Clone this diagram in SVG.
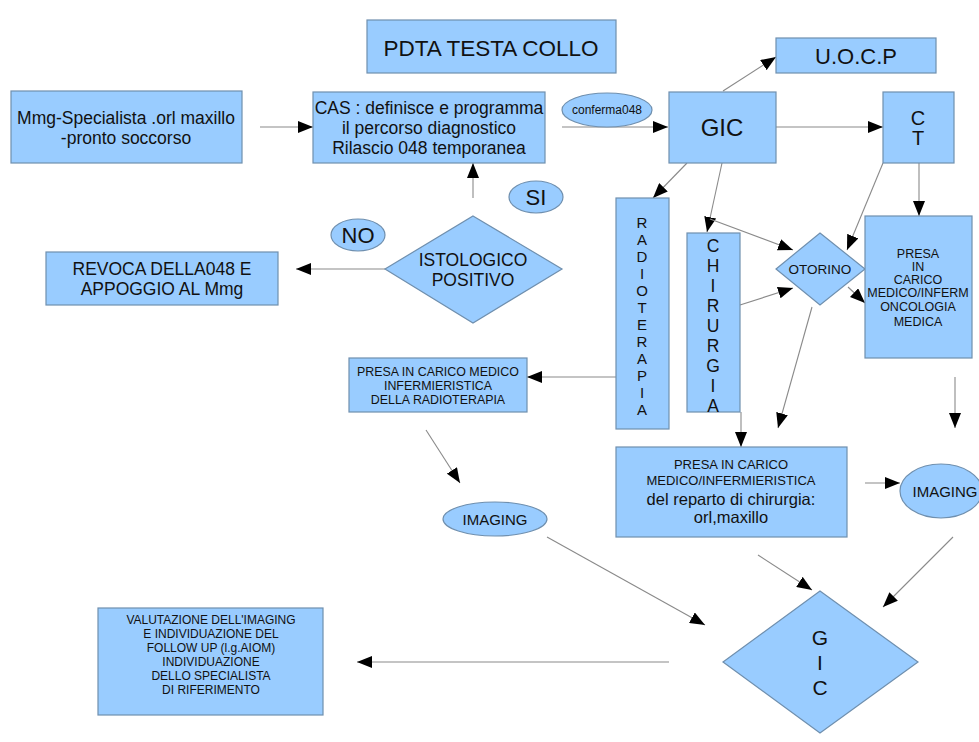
<svg xmlns="http://www.w3.org/2000/svg" width="979" height="742" viewBox="0 0 979 742">
<style>
.n{fill:#99ccff;stroke:#6f8fae;stroke-width:1.2}
.t{font-family:"Liberation Sans",Arial,sans-serif;fill:#111;text-anchor:middle}
.c line{stroke:#8a8a8a;stroke-width:1.1;marker-end:url(#ah)}
</style>
<defs>
<marker id="ah" markerUnits="userSpaceOnUse" markerWidth="16" markerHeight="12" refX="15" refY="6" orient="auto"><path d="M0,0 L15,6 L0,12 z" fill="#000"/></marker>
</defs>
<rect width="979" height="742" fill="#fff"/>
<g class="c">
<line x1="260" y1="127" x2="313" y2="127"/>
<line x1="562" y1="127" x2="668" y2="127"/>
<line x1="723" y1="91" x2="776" y2="57"/>
<line x1="776" y1="127" x2="883" y2="127"/>
<line x1="919" y1="163" x2="919" y2="216"/>
<line x1="883" y1="163" x2="847" y2="250"/>
<line x1="687" y1="163" x2="653" y2="198"/>
<line x1="722" y1="163" x2="707" y2="232"/>
<line x1="710" y1="219" x2="793" y2="250"/>
<line x1="740" y1="305" x2="793" y2="288"/>
<line x1="848" y1="287" x2="865" y2="303"/>
<line x1="812" y1="307" x2="778" y2="428"/>
<line x1="955" y1="377" x2="955" y2="428"/>
<line x1="741" y1="412" x2="741" y2="447"/>
<line x1="616" y1="377" x2="527" y2="377"/>
<line x1="473" y1="198" x2="473" y2="163"/>
<line x1="385" y1="269" x2="296" y2="269"/>
<line x1="426" y1="430" x2="460" y2="483"/>
<line x1="547" y1="537" x2="705" y2="625"/>
<line x1="758" y1="555" x2="812" y2="590"/>
<line x1="865" y1="483" x2="900" y2="483"/>
<line x1="953" y1="537" x2="883" y2="607"/>
<line x1="669" y1="662" x2="357" y2="662"/>
</g>
<g id="pdta"><rect class="n" x="367" y="20" width="249" height="53"/><text class="t" x="491" y="56" font-size="22.5">PDTA TESTA COLLO</text></g>
<g id="mmg"><rect class="n" x="11" y="91" width="231" height="72"/><text class="t" x="126" y="124" font-size="17.5">Mmg-Specialista .orl maxillo</text><text class="t" x="126" y="144" font-size="17.5">-pronto soccorso</text></g>
<g id="cas"><rect class="n" x="313" y="92" width="232" height="71"/><text class="t" x="429" y="114" font-size="17.5">CAS : definisce e programma</text><text class="t" x="429" y="134" font-size="17.5">il percorso diagnostico</text><text class="t" x="429" y="154" font-size="17.5">Rilascio 048 temporanea</text></g>
<g id="conferma"><ellipse class="n" cx="607" cy="110" rx="45" ry="17"/><text class="t" x="607" y="114" font-size="12">conferma048</text></g>
<g id="gic1"><rect class="n" x="669" y="92" width="107" height="71"/><text class="t" x="722" y="136" font-size="24">GIC</text></g>
<g id="uocp"><rect class="n" x="776" y="38" width="160" height="35"/><text class="t" x="856" y="64" font-size="22">U.O.C.P</text></g>
<g id="ct"><rect class="n" x="883" y="92" width="71" height="71"/><text class="t" x="918" y="125" font-size="20">C</text><text class="t" x="918" y="145" font-size="20">T</text></g>
<g id="si"><ellipse class="n" cx="536" cy="197" rx="27" ry="16"/><text class="t" x="536" y="205" font-size="22">SI</text></g>
<g id="no"><ellipse class="n" cx="358" cy="235" rx="27" ry="16"/><text class="t" x="358" y="243" font-size="22">NO</text></g>
<g id="istologico"><polygon class="n" points="473,216 562,269 473,323 385,269"/><text class="t" x="473" y="266" font-size="17.5">ISTOLOGICO</text><text class="t" x="473" y="286" font-size="17.5">POSITIVO</text></g>
<g id="revoca"><rect class="n" x="46" y="252" width="232" height="53"/><text class="t" x="162" y="275" font-size="17.5">REVOCA DELLA048 E</text><text class="t" x="162" y="295" font-size="17.5">APPOGGIO AL Mmg</text></g>
<g id="radioterapia"><rect class="n" x="616" y="198" width="53" height="231"/>
<text class="t" x="642" font-size="15"><tspan x="642" y="228">R</tspan><tspan x="642" y="245">A</tspan><tspan x="642" y="262">D</tspan><tspan x="642" y="279">I</tspan><tspan x="642" y="296">O</tspan><tspan x="642" y="313">T</tspan><tspan x="642" y="330">E</tspan><tspan x="642" y="347">R</tspan><tspan x="642" y="364">A</tspan><tspan x="642" y="381">P</tspan><tspan x="642" y="398">I</tspan><tspan x="642" y="415">A</tspan></text></g>
<g id="chirurgia"><rect class="n" x="687" y="233" width="53" height="179"/>
<text class="t" x="713" font-size="17.5"><tspan x="713" y="252">C</tspan><tspan x="713" y="272">H</tspan><tspan x="713" y="292">I</tspan><tspan x="713" y="312">R</tspan><tspan x="713" y="332">U</tspan><tspan x="713" y="352">R</tspan><tspan x="713" y="372">G</tspan><tspan x="713" y="392">I</tspan><tspan x="713" y="412">A</tspan></text></g>
<g id="otorino"><polygon class="n" points="820,233 865,269 820,305 776,269"/><text class="t" x="820" y="274" font-size="13.5">OTORINO</text></g>
<g id="presaonc"><rect class="n" x="865" y="216" width="107" height="142"/>
<text class="t" font-size="12.5"><tspan x="918" y="258">PRESA</tspan><tspan x="918" y="271">IN</tspan><tspan x="918" y="284">CARICO</tspan><tspan x="918" y="297">MEDICO/INFERM</tspan><tspan x="918" y="311">ONCOLOGIA</tspan><tspan x="918" y="326">MEDICA</tspan></text></g>
<g id="presaradio"><rect class="n" x="349" y="358" width="178" height="54"/>
<text class="t" font-size="12.4"><tspan x="438" y="376">PRESA IN CARICO MEDICO</tspan><tspan x="438" y="390">INFERMIERISTICA</tspan><tspan x="438" y="404">DELLA RADIOTERAPIA</tspan></text></g>
<g id="presachir"><rect class="n" x="616" y="447" width="231" height="90"/>
<text class="t" font-size="13"><tspan x="731" y="469">PRESA IN CARICO</tspan><tspan x="731" y="485">MEDICO/INFERMIERISTICA</tspan></text>
<text class="t" font-size="16.5"><tspan x="731" y="505">del reparto di chirurgia:</tspan><tspan x="731" y="523">orl,maxillo</tspan></text></g>
<g id="imaging1"><ellipse class="n" cx="495" cy="519" rx="52" ry="17"/><text class="t" x="495" y="525" font-size="15">IMAGING</text></g>
<g id="imaging2"><ellipse class="n" cx="941" cy="491" rx="41" ry="27"/><text class="t" x="945" y="497" font-size="15">IMAGING</text></g>
<g id="gic2"><polygon class="n" points="820,591 918,662 820,733 723,662"/>
<text class="t" font-size="21"><tspan x="820" y="645">G</tspan><tspan x="820" y="670">I</tspan><tspan x="820" y="695">C</tspan></text></g>
<g id="valutazione"><rect class="n" x="98" y="608" width="225" height="107"/>
<text class="t" font-size="12"><tspan x="211" y="624">VALUTAZIONE DELL'IMAGING</tspan><tspan x="211" y="638">E INDIVIDUAZIONE DEL</tspan><tspan x="211" y="652">FOLLOW UP (l.g.AIOM)</tspan><tspan x="211" y="666">INDIVIDUAZIONE</tspan><tspan x="211" y="680">DELLO SPECIALISTA</tspan><tspan x="211" y="694">DI RIFERIMENTO</tspan></text></g>
</svg>
